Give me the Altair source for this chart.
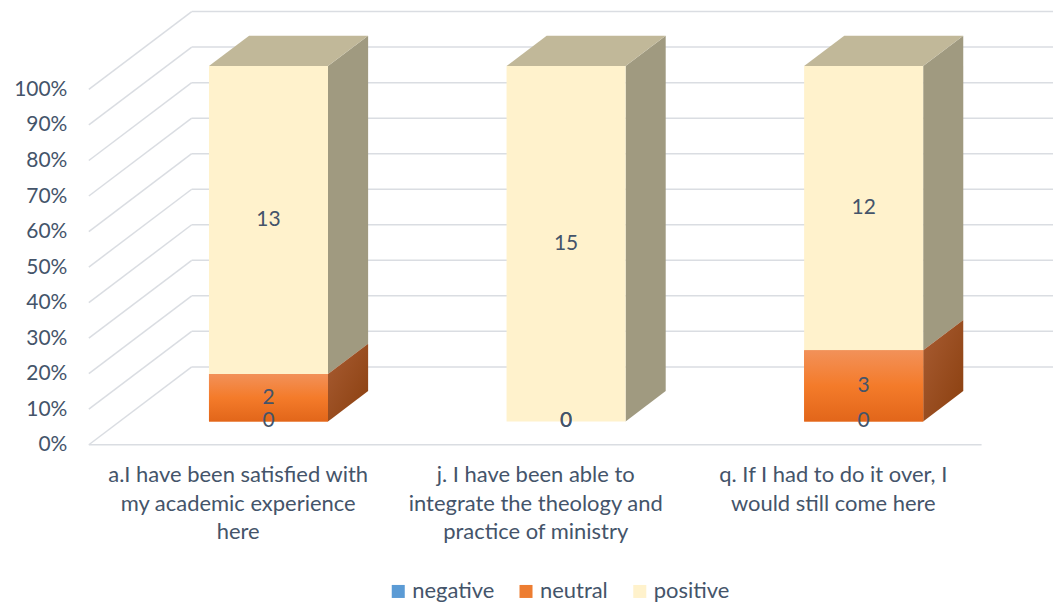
import altair as alt
import pandas as pd

# ---------------- data ----------------
categories = [
    "a.I have been satisfied with my academic experience here",
    "j. I have been able to integrate the theology and practice of ministry",
    "q. If I had to do it over, I would still come here",
]
category_lines = [
    ["a.I have been satisfied with", "my academic experience", "here"],
    ["j. I have been able to", "integrate the theology and", "practice of ministry"],
    ["q. If I had to do it over, I", "would still come here"],
]
series = ["negative", "neutral", "positive"]
negative = [0, 0, 0]
neutral = [2, 0, 3]
positive = [13, 15, 12]
y_ticks = [0, 10, 20, 30, 40, 50, 60, 70, 80, 90, 100]

# ---------------- style / 3-D geometry ----------------
TEXT = "#44546A"
GRID = "#DADDE2"
FRONT_COLORS = ["#5B9BD5", "#ED7D31", "#FFF2CC"]
POS_SIDE = "#A09A80"
POS_TOP = "#C1B899"
DEPTH_X = 103 / 298          # depth vector, in x units
DEPTH_Y = 78 / 3.56          # depth vector, in percent units
BAR_FRONT = 0.30
BAR_BACK = 0.69
HALF_W = 0.2
X_MIN, X_MAX = -0.5, 2.74
Y_MAX = 100 + DEPTH_Y
FS = 21
FS_X = 22

fx, fy = BAR_FRONT * DEPTH_X, BAR_FRONT * DEPTH_Y
bx, by = BAR_BACK * DEPTH_X, BAR_BACK * DEPTH_Y

# ---------------- tables ----------------
rows = []
for i, c in enumerate(categories):
    vals = [negative[i], neutral[i], positive[i]]
    tot = sum(vals)
    cum = 0
    for s, v in zip(series, vals):
        p0 = cum / tot * 100
        cum += v
        p1 = cum / tot * 100
        rows.append(dict(i=i, cat=c, series=s, count=v, p0=p0, p1=p1,
                         fx0=i + fx - HALF_W, fx1=i + fx + HALF_W,
                         fy0=p0 + fy, fy1=p1 + fy,
                         lx=i + fx, ly=(p0 + p1) / 2 + fy))
seg = pd.DataFrame(rows)

side_rows = []
for r in rows:
    key = f"{r['i']}-{r['series']}"
    side_rows.append(dict(key=key, series=r["series"], x=r["i"] + fx + HALF_W,
                          lo=r["p0"] + fy, hi=r["p1"] + fy))
    side_rows.append(dict(key=key, series=r["series"], x=r["i"] + bx + HALF_W,
                          lo=r["p0"] + by, hi=r["p1"] + by))
side = pd.DataFrame(side_rows)

top_rows = []
for r in rows:
    if r["series"] == "positive":
        top_rows.append(dict(i=r["i"], y=r["p1"] + fy,
                             xa=r["i"] + fx - HALF_W, xb=r["i"] + fx + HALF_W))
        top_rows.append(dict(i=r["i"], y=r["p1"] + by,
                             xa=r["i"] + bx - HALF_W, xb=r["i"] + bx + HALF_W))
top = pd.DataFrame(top_rows)

diag = pd.DataFrame(dict(x=[X_MIN] * len(y_ticks), x2=[X_MIN + DEPTH_X] * len(y_ticks),
                         y=y_ticks, y2=[t + DEPTH_Y for t in y_ticks]))
back = pd.DataFrame(dict(x=[X_MIN + DEPTH_X] * len(y_ticks), x2=[X_MAX] * len(y_ticks),
                         y=[t + DEPTH_Y for t in y_ticks]))
floor = pd.DataFrame(dict(x=[X_MIN], x2=[2.5], y=[0]))

xs = alt.Scale(domain=[X_MIN, X_MAX], nice=False, zero=False)
ys = alt.Scale(domain=[0, Y_MAX], nice=False, zero=False)

label_arr = "[" + ",".join("'" + "|".join(l) + "'" for l in category_lines) + "]"
x_axis = alt.Axis(values=list(range(len(categories))),
                  labelExpr=f"split({label_arr}[round(datum.value)], '|')",
                  grid=False, domain=False, ticks=False, title=None,
                  labelFontSize=FS_X, labelColor=TEXT, labelPadding=20,
                  labelBaseline="top", labelLineHeight=28.5, labelLimit=400,
                  labelFlush=False, labelOverlap=False)
y_axis = alt.Axis(values=y_ticks, labelExpr="datum.value + '%'", grid=False,
                  domain=False, ticks=False, title=None, labelFontSize=FS,
                  labelColor=TEXT, labelPadding=22, labelFlush=False,
                  labelOverlap=False)


def X(f):
    return alt.X(f, scale=xs, axis=x_axis)


def Y(f):
    return alt.Y(f, scale=ys, axis=y_axis)


grid_diag = alt.Chart(diag).mark_rule(color=GRID, strokeWidth=1.5).encode(
    x=X("x:Q"), x2="x2:Q", y=Y("y:Q"), y2="y2:Q")
grid_back = alt.Chart(back).mark_rule(color=GRID, strokeWidth=1.5).encode(
    x=X("x:Q"), x2="x2:Q", y=Y("y:Q"))
grid_floor = alt.Chart(floor).mark_rule(color=GRID, strokeWidth=1.5).encode(
    x=X("x:Q"), x2="x2:Q", y=Y("y:Q"))

side_pos = alt.Chart(side).transform_filter(alt.datum.series == "positive").mark_area(
    orient="vertical", color=POS_SIDE).encode(
    x=X("x:Q"), y=Y("lo:Q"), y2="hi:Q", detail="key:N")
side_neu = alt.Chart(side).transform_filter(alt.datum.series == "neutral").mark_area(
    orient="vertical",
    color=alt.Gradient(gradient="linear", x1=0, y1=0, x2=1, y2=1,
                       stops=[alt.GradientStop(color="#A85C33", offset=0),
                              alt.GradientStop(color="#8A3F0E", offset=1)])).encode(
    x=X("x:Q"), y=Y("lo:Q"), y2="hi:Q", detail="key:N")
top_face = alt.Chart(top).mark_area(orient="horizontal", color=POS_TOP).encode(
    y=Y("y:Q"), x=X("xa:Q"), x2="xb:Q", detail="i:N")

front = alt.Chart(seg).mark_rect().encode(
    x=X("fx0:Q"), x2="fx1:Q", y=Y("fy0:Q"), y2="fy1:Q",
    color=alt.Color("series:N",
                    scale=alt.Scale(domain=series, range=FRONT_COLORS),
                    legend=alt.Legend(title=None, orient="none", direction="horizontal",
                                      legendX=299, legendY=570, symbolType="square",
                                      symbolSize=170, symbolStrokeWidth=0,
                                      labelFontSize=22, labelColor=TEXT,
                                      columnPadding=20, labelOffset=3, padding=0)))
front_neu = alt.Chart(seg).transform_filter(alt.datum.series == "neutral").mark_rect(
    color=alt.Gradient(gradient="linear", x1=0, y1=0, x2=0, y2=1,
                       stops=[alt.GradientStop(color="#F29159", offset=0),
                              alt.GradientStop(color="#F47B2A", offset=0.5),
                              alt.GradientStop(color="#E2661A", offset=1)])).encode(
    x=X("fx0:Q"), x2="fx1:Q", y=Y("fy0:Q"), y2="fy1:Q")

labels = alt.Chart(seg).mark_text(fontSize=FS, color=TEXT).encode(
    x=X("lx:Q"), y=Y("ly:Q"), text="count:Q")

chart = alt.layer(grid_diag, grid_back, grid_floor, side_pos, side_neu, top_face,
                  front, front_neu, labels).properties(
    width=966, height=434,
    padding={"left": 5, "top": 2, "right": 0, "bottom": 5},
).configure(font="Lato").configure_view(stroke=None)

chart.save("out.html", embed_options={"renderer": "svg", "actions": False})
